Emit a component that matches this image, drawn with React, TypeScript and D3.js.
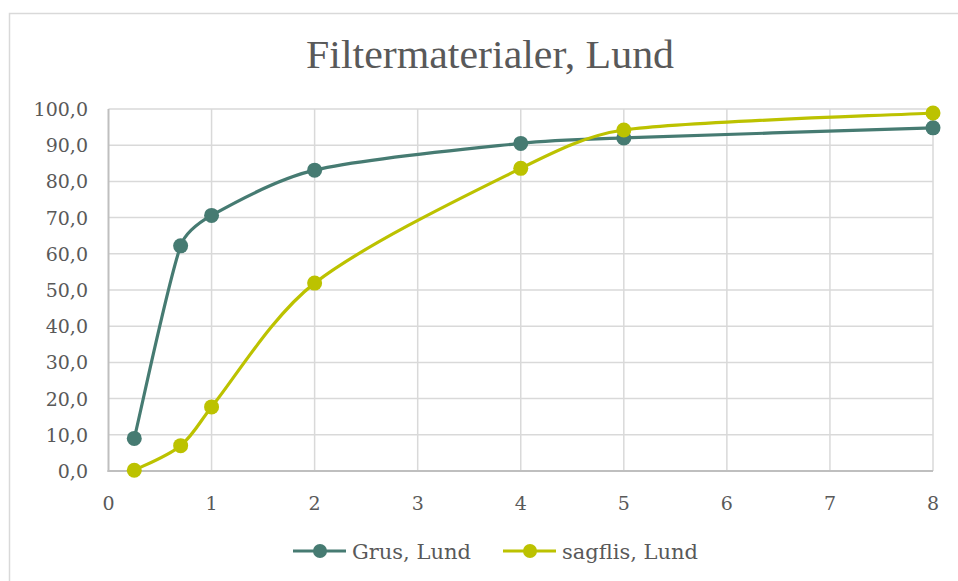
import React from "react";
import * as d3 from "d3";

const title = "Filtermaterialer, Lund";
const xValues = [0.25, 0.7, 1, 2, 4, 5, 8];
const grusValues = [9.0, 62.2, 70.6, 83.1, 90.5, 92.0, 94.8];
const sagflisValues = [0.2, 7.0, 17.7, 51.9, 83.6, 94.2, 98.9];
const seriesNames = ["Grus, Lund", "sagflis, Lund"];
const xTicks = [0, 1, 2, 3, 4, 5, 6, 7, 8];
const yTicks = [0, 10, 20, 30, 40, 50, 60, 70, 80, 90, 100];

const W = 958;
const H = 581;
const left = 108.5;
const right = 933;
const top = 109;
const bottom = 471;
const colors = ["#467b72", "#bcc200"];
const textColor = "#595959";
const gridColor = "#d9d9d9";
const axisColor = "#bfbfbf";
const font = "'DejaVu Serif', serif";

// Excel-like smoothing: Catmull-Rom tangents with handle length clamped to a fraction of the segment chord
function excelSmooth(context: any) {
  let pts: [number, number][] = [];
  return {
    areaStart() {},
    areaEnd() {},
    lineStart() {
      pts = [];
    },
    point(x: number, y: number) {
      pts.push([x, y]);
    },
    lineEnd() {
      const n = pts.length;
      if (!n) return;
      context.moveTo(pts[0][0], pts[0][1]);
      const tang = pts.map((p, i) => {
        const a = pts[Math.max(0, i - 1)];
        const b = pts[Math.min(n - 1, i + 1)];
        return [(b[0] - a[0]) / 6, (b[1] - a[1]) / 6];
      });
      for (let i = 0; i < n - 1; i++) {
        const p0 = pts[i];
        const p1 = pts[i + 1];
        const chord = Math.hypot(p1[0] - p0[0], p1[1] - p0[1]);
        const lim = chord / 3;
        const clamp = (t: number[]) => {
          const l = Math.hypot(t[0], t[1]);
          const s = l > lim && l > 0 ? lim / l : 1;
          return [t[0] * s, t[1] * s];
        };
        const t0 = clamp(tang[i]);
        const t1 = clamp(tang[i + 1]);
        context.bezierCurveTo(
          p0[0] + t0[0], p0[1] + t0[1],
          p1[0] - t1[0], p1[1] - t1[1],
          p1[0], p1[1]
        );
      }
    },
  };
}

export default function App() {
  const x = d3.scaleLinear().domain([0, 8]).range([left, right]);
  const y = d3.scaleLinear().domain([0, 100]).range([bottom, top]);
  const line = d3
    .line<[number, number]>()
    .x((d) => x(d[0]))
    .y((d) => y(d[1]))
    .curve(excelSmooth as any);
  const series = [grusValues, sagflisValues].map((vals) =>
    xValues.map((xv, i) => [xv, vals[i]] as [number, number])
  );
  const legendX = [293, 503];
  const legendY = 551;

  return (
    <svg
      width={W}
      height={H}
      style={{ position: "absolute", left: 0, top: 0, background: "#fff" }}
    >
      <rect x={9.5} y={13.5} width={980} height={600} fill="#fff" stroke="#d9d9d9" strokeWidth={1.5} />
      <text
        x={490}
        y={68}
        textAnchor="middle"
        fill={textColor}
        fontFamily="'Liberation Serif', serif"
        fontSize={40}
        textLength={368}
        lengthAdjust="spacingAndGlyphs"
      >
        {title}
      </text>
      {yTicks.slice(1).map((t) => (
        <line key={"hg" + t} x1={left} x2={right} y1={y(t)} y2={y(t)} stroke={gridColor} strokeWidth={1.5} />
      ))}
      {xTicks.slice(1).map((t) => (
        <line key={"vg" + t} x1={x(t)} x2={x(t)} y1={top} y2={bottom} stroke={gridColor} strokeWidth={1.5} />
      ))}
      <line x1={left} x2={left} y1={top} y2={bottom + 1} stroke={axisColor} strokeWidth={2} />
      <line x1={left - 1} x2={right} y1={bottom} y2={bottom} stroke={axisColor} strokeWidth={2} />
      {yTicks.map((t) => (
        <text key={"yl" + t} x={88} y={y(t) + 7} textAnchor="end" fill={textColor} fontFamily={font} fontSize={19}>
          {t.toFixed(1).replace(".", ",")}
        </text>
      ))}
      {xTicks.map((t) => (
        <text key={"xl" + t} x={x(t)} y={510} textAnchor="middle" fill={textColor} fontFamily={font} fontSize={19}>
          {t}
        </text>
      ))}
      {series.map((pts, si) => (
        <g key={"s" + si}>
          <path d={line(pts) || ""} fill="none" stroke={colors[si]} strokeWidth={3.2} />
          {pts.map((p, i) => (
            <circle key={i} cx={x(p[0])} cy={y(p[1])} r={7.5} fill={colors[si]} />
          ))}
        </g>
      ))}
      {seriesNames.map((name, si) => (
        <g key={"lg" + si}>
          <line x1={legendX[si]} x2={legendX[si] + 53} y1={legendY} y2={legendY} stroke={colors[si]} strokeWidth={3.2} />
          <circle cx={legendX[si] + 27} cy={legendY} r={7} fill={colors[si]} />
          <text x={legendX[si] + 59} y={legendY + 8} fill={textColor} fontFamily={font} fontSize={21}>
            {name}
          </text>
        </g>
      ))}
    </svg>
  );
}
